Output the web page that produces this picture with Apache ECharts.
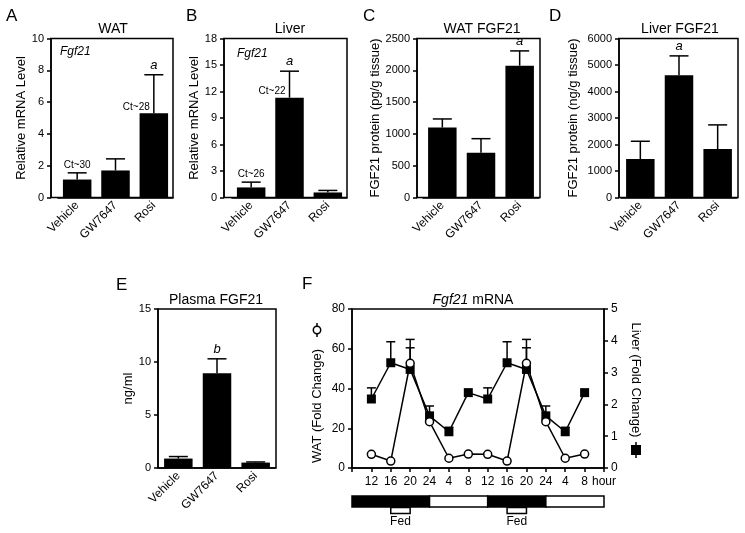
<!DOCTYPE html>
<html><head><meta charset="utf-8">
<script src="https://cdn.jsdelivr.net/npm/echarts@6/dist/echarts.min.js"></script>
<style>html,body{margin:0;padding:0;background:#fff}#c{width:745px;height:533px}</style>
</head><body><div id="c"></div>
<script>
// ---------- data ----------
const groups = ['Vehicle', 'GW7647', 'Rosi'];

const watMrna = [1.13, 1.7, 5.3];
const watMrnaErr = [1.55, 2.43, 7.72];
const watMrnaSig = ['', '', 'a'];
const watMrnaCt = ['Ct~30', '', 'Ct~28'];

const liverMrna = [1.14, 11.3, 0.57];
const liverMrnaErr = [1.74, 14.3, 0.8];
const liverMrnaSig = ['', 'a', ''];
const liverMrnaCt = ['Ct~26', 'Ct~22', ''];

const watProt = [1100, 704, 2073];
const watProtErr = [1235, 925, 2305];
const watProtSig = ['', '', 'a'];

const liverProt = [1452, 4609, 1830];
const liverProtErr = [2122, 5344, 2740];
const liverProtSig = ['', 'a', ''];

const plasma = [0.89, 8.94, 0.51];
const plasmaErr = [1.08, 10.3, 0.57];
const plasmaSig = ['', 'b', ''];

const hours = ['12', '16', '20', '24', '4', '8', '12', '16', '20', '24', '4', '8'];
const hourUnit = 'hour';
const watTime = [6.9, 3.5, 52.7, 23.3, 4.9, 7.0, 6.9, 3.5, 52.7, 23.3, 4.9, 7.0];
const watTimeErr = [null, null, 64.7, null, null, null, null, null, 64.7, null, null, null];
const liverTime = [2.17, 3.31, 3.10, 1.64, 1.14, 2.37, 2.17, 3.31, 3.10, 1.64, 1.14, 2.37];
const liverTimeErr = [2.52, 3.97, 3.78, 1.95, 1.28, null, 2.52, 3.97, 3.78, 1.95, 1.28, null];

const phaseStart = [-1, 3, 6, 9];
const phaseEnd = [3, 6, 9, 12];
const phaseDark = [1, 0, 1, 0];
const fedStart = [1, 7];
const fedEnd = [2, 8];
const fedLabel = 'Fed';

// ---------- chart ----------
const FONT = "'Liberation Sans', Arial, Helvetica, sans-serif";
const BLACK = '#000';
const LW = 1.5;

function makeErr(sig, ct, capHalf) {
  return function (params, api) {
    const i = params.dataIndex;
    const x = api.value(0), v = api.value(1), e = api.value(2);
    const b = api.coord([x, v]), t = api.coord([x, e]);
    const ls = { stroke: BLACK, lineWidth: LW };
    const ch = [
      { type: 'line', shape: { x1: b[0], y1: b[1], x2: t[0], y2: t[1] }, style: ls },
      { type: 'line', shape: { x1: t[0] - capHalf, y1: t[1], x2: t[0] + capHalf, y2: t[1] }, style: ls }
    ];
    if (sig && sig[i]) ch.push({ type: 'text', x: t[0], y: t[1] - 3, style: { text: sig[i], fill: BLACK, fontSize: 13, fontStyle: 'italic', fontFamily: FONT, align: 'center', verticalAlign: 'bottom' } });
    if (ct && ct[i]) {
      if (i === 0) ch.push({ type: 'text', x: t[0], y: t[1] - 3, style: { text: ct[i], fill: BLACK, fontSize: 10, fontFamily: FONT, align: 'center', verticalAlign: 'bottom' } });
      else ch.push({ type: 'text', x: b[0] - 4, y: b[1] - 1, style: { text: ct[i], fill: BLACK, fontSize: 10, fontFamily: FONT, align: 'right', verticalAlign: 'bottom' } });
    }
    return { type: 'group', children: ch };
  };
}

const barPanels = [
  { left: 51, top: 38.5, width: 122, height: 159, dataLeft: 58, dataWidth: 115, max: 10, interval: 2,
    vals: watMrna, err: watMrnaErr, sig: watMrnaSig, ct: watMrnaCt, name: 'Relative mRNA Level', nameGap: 17 },
  { left: 224, top: 38.5, width: 123, height: 159, dataLeft: 232, dataWidth: 115, max: 18, interval: 3,
    vals: liverMrna, err: liverMrnaErr, sig: liverMrnaSig, ct: liverMrnaCt, name: 'Relative mRNA Level', nameGap: 12 },
  { left: 417, top: 38.5, width: 123, height: 159, dataLeft: 423, dataWidth: 116, max: 2500, interval: 500,
    vals: watProt, err: watProtErr, sig: watProtSig, ct: null, name: 'FGF21 protein (pg/g tissue)', nameGap: 35 },
  { left: 619, top: 38.5, width: 119, height: 159, dataLeft: 621, dataWidth: 116, max: 6000, interval: 1000,
    vals: liverProt, err: liverProtErr, sig: liverProtSig, ct: null, name: 'FGF21 protein (ng/g tissue)', nameGap: 39 },
  { left: 158, top: 309, width: 118, height: 159, dataLeft: 159, dataWidth: 116, max: 15, interval: 5,
    vals: plasma, err: plasmaErr, sig: plasmaSig, ct: null, name: 'ng/ml', nameGap: 21 }
];

const grid = [], xAxis = [], yAxis = [], series = [];
const axisLineStyle = { color: BLACK, width: LW };
const plain = v => String(v);

barPanels.forEach(p => {
  const fi = grid.length;
  grid.push({ left: p.left, top: p.top, width: p.width, height: p.height, show: true, borderColor: BLACK, borderWidth: LW, backgroundColor: 'rgba(0,0,0,0)' });
  xAxis.push({ gridIndex: fi, type: 'value', show: false, min: 0, max: 1 });
  yAxis.push({ gridIndex: fi, type: 'value', show: false, min: 0, max: 1 });
  const di = grid.length;
  grid.push({ left: p.dataLeft, top: p.top, width: p.dataWidth, height: p.height });
  const xi = xAxis.length;
  xAxis.push({ gridIndex: di, type: 'category', data: groups,
    axisLine: { onZero: false, lineStyle: axisLineStyle },
    axisTick: { length: 4, lineStyle: axisLineStyle, interval: (i) => i > 0 },
    axisLabel: { rotate: 45, fontSize: 12, color: BLACK, margin: 6, fontFamily: FONT } });
  const yi = yAxis.length;
  yAxis.push({ gridIndex: di, type: 'value', min: 0, max: p.max, interval: p.interval, offset: p.dataLeft - p.left,
    axisLine: { show: true, onZero: false, lineStyle: axisLineStyle },
    axisTick: { show: true, length: 4, lineStyle: axisLineStyle },
    axisLabel: { fontSize: 11, color: BLACK, margin: 7, fontFamily: FONT, formatter: plain },
    splitLine: { show: false },
    name: p.name, nameLocation: 'middle', nameGap: p.nameGap,
    nameTextStyle: { fontSize: 13, color: BLACK, fontFamily: FONT } });
  series.push({ type: 'bar', xAxisIndex: xi, yAxisIndex: yi, data: p.vals, barWidth: 28.5, itemStyle: { color: BLACK }, silent: true });
  series.push({ type: 'custom', xAxisIndex: xi, yAxisIndex: yi, z: 3, silent: true,
    data: p.vals.map((v, i) => [i, v, p.err[i]]), renderItem: makeErr(p.sig, p.ct, 9.5) });
});

// Panel F
const fG = grid.length;
grid.push({ left: 352, top: 309, width: 252, height: 159, show: true, borderColor: BLACK, borderWidth: LW, backgroundColor: 'rgba(0,0,0,0)' });
const fX = xAxis.length;
xAxis.push({ gridIndex: fG, type: 'value', min: -1, max: hours.length, interval: 1,
  axisLine: { onZero: false, lineStyle: axisLineStyle }, axisTick: { length: 4, lineStyle: axisLineStyle },
  splitLine: { show: false },
  axisLabel: { fontSize: 12, color: BLACK, margin: 8, fontFamily: FONT,
    formatter: v => (v >= 0 && v < hours.length) ? hours[v] : (v === hours.length ? hourUnit : '') } });
const fYL = yAxis.length;
yAxis.push({ gridIndex: fG, type: 'value', min: 0, max: 80, interval: 20, position: 'left',
  axisLine: { show: true, onZero: false, lineStyle: axisLineStyle }, axisTick: { show: true, length: 4, lineStyle: axisLineStyle },
  axisLabel: { fontSize: 12, color: BLACK, margin: 7, fontFamily: FONT }, splitLine: { show: false },
  name: 'WAT (Fold Change)', nameLocation: 'middle', nameGap: 28,
  nameTextStyle: { fontSize: 13, color: BLACK, fontFamily: FONT, padding: [0, 35, 0, 0] } });
const fYR = yAxis.length;
yAxis.push({ gridIndex: fG, type: 'value', min: 0, max: 5, interval: 1, position: 'right',
  axisLine: { show: true, onZero: false, lineStyle: axisLineStyle }, axisTick: { show: true, length: 4, lineStyle: axisLineStyle },
  axisLabel: { fontSize: 12, color: BLACK, margin: 7, fontFamily: FONT }, splitLine: { show: false },
  name: 'Liver (Fold Change)', nameLocation: 'middle', nameGap: 25, nameRotate: -90,
  nameTextStyle: { fontSize: 13, color: BLACK, fontFamily: FONT, padding: [0, 17, 0, 0] } });

function pts(vals, errs) {
  return errs.map((e, i) => e == null ? null : [i, vals[i], e]).filter(Boolean);
}
series.push({ type: 'custom', xAxisIndex: fX, yAxisIndex: fYR, z: 1, silent: true, data: pts(liverTime, liverTimeErr), renderItem: makeErr(null, null, 4.5) });
series.push({ type: 'custom', xAxisIndex: fX, yAxisIndex: fYL, z: 1, silent: true, data: pts(watTime, watTimeErr), renderItem: makeErr(null, null, 4.5) });
series.push({ type: 'line', xAxisIndex: fX, yAxisIndex: fYR, z: 2, data: liverTime.map((v, i) => [i, v]),
  symbol: 'rect', symbolSize: 9, itemStyle: { color: BLACK }, lineStyle: { color: BLACK, width: LW } });
series.push({ type: 'line', xAxisIndex: fX, yAxisIndex: fYL, z: 3, data: watTime.map((v, i) => [i, v]),
  symbol: 'circle', symbolSize: 8, itemStyle: { color: '#fff', borderColor: BLACK, borderWidth: LW }, lineStyle: { color: BLACK, width: LW } });

// light/dark bar
const tG = grid.length;
grid.push({ left: 352, top: 496, width: 252, height: 11 });
xAxis.push({ gridIndex: tG, type: 'value', min: -1, max: hours.length, show: false });
yAxis.push({ gridIndex: tG, type: 'value', min: 0, max: 1, show: false });
series.push({ type: 'custom', xAxisIndex: xAxis.length - 1, yAxisIndex: yAxis.length - 1, clip: false, silent: true,
  data: phaseStart.map((s, i) => [s, phaseEnd[i], phaseDark[i]]),
  renderItem: (params, api) => {
    const a = api.coord([api.value(0), 1]), b = api.coord([api.value(1), 0]);
    return { type: 'rect', shape: { x: a[0], y: a[1], width: b[0] - a[0], height: b[1] - a[1] },
      style: { fill: api.value(2) ? BLACK : '#fff', stroke: BLACK, lineWidth: LW } };
  } });

// fed brackets
const dG = grid.length;
grid.push({ left: 352, top: 507.5, width: 252, height: 6 });
xAxis.push({ gridIndex: dG, type: 'value', min: -1, max: hours.length, show: false });
yAxis.push({ gridIndex: dG, type: 'value', min: 0, max: 1, show: false });
series.push({ type: 'custom', xAxisIndex: xAxis.length - 1, yAxisIndex: yAxis.length - 1, clip: false, silent: true,
  data: fedStart.map((s, i) => [s, fedEnd[i]]),
  renderItem: (params, api) => {
    const a = api.coord([api.value(0), 1]), b = api.coord([api.value(1), 0]);
    return { type: 'group', children: [
      { type: 'rect', shape: { x: a[0], y: a[1], width: b[0] - a[0], height: b[1] - a[1] }, style: { fill: 'none', stroke: BLACK, lineWidth: LW } },
      { type: 'text', x: (a[0] + b[0]) / 2, y: b[1] + 2, style: { text: fedLabel, fill: BLACK, fontSize: 12, fontFamily: FONT, align: 'center', verticalAlign: 'top' } }
    ] };
  } });

function txt(text, x, y, size, align, extra) {
  return { type: 'text', x: x, y: y, silent: true,
    style: Object.assign({ text: text, fill: BLACK, fontSize: size, fontFamily: FONT, align: align || 'center', verticalAlign: 'middle' }, extra || {}) };
}

const graphic = [
  txt('A', 6, 16, 17, 'left'),
  txt('B', 186, 16, 17, 'left'),
  txt('C', 363, 16, 17, 'left'),
  txt('D', 549, 16, 17, 'left'),
  txt('E', 116, 285, 17, 'left'),
  txt('F', 302, 284, 17, 'left'),
  txt('WAT', 113, 29, 14),
  txt('Liver', 290, 29, 14),
  txt('WAT FGF21', 482, 29, 14),
  txt('Liver FGF21', 680, 29, 14),
  txt('Plasma FGF21', 216, 300, 14),
  txt('Fgf21', 60, 52, 12, 'left', { fontStyle: 'italic' }),
  txt('Fgf21', 237, 54, 12, 'left', { fontStyle: 'italic' }),
  { type: 'text', x: 473, y: 300, silent: true, style: { text: '{i|Fgf21} {n|mRNA}', align: 'center', verticalAlign: 'middle', fontSize: 14, fontFamily: FONT, fill: BLACK,
      rich: { i: { fontStyle: 'italic', fontSize: 14, fontFamily: FONT, fill: BLACK }, n: { fontSize: 14, fontFamily: FONT, fill: BLACK } } } },
  { type: 'line', silent: true, shape: { x1: 317, y1: 323, x2: 317, y2: 337 }, style: { stroke: BLACK, lineWidth: LW } },
  { type: 'circle', silent: true, shape: { cx: 317, cy: 330, r: 3.7 }, style: { fill: '#fff', stroke: BLACK, lineWidth: LW } },
  { type: 'line', silent: true, shape: { x1: 636, y1: 442, x2: 636, y2: 458 }, style: { stroke: BLACK, lineWidth: LW } },
  { type: 'rect', silent: true, shape: { x: 631, y: 445, width: 10, height: 10 }, style: { fill: BLACK } }
];

const chart = echarts.init(document.getElementById('c'), null, { renderer: 'canvas' });
chart.setOption({
  animation: false,
  backgroundColor: '#fff',
  textStyle: { fontFamily: FONT, color: BLACK },
  grid, xAxis, yAxis, series, graphic
});
</script></body></html>
